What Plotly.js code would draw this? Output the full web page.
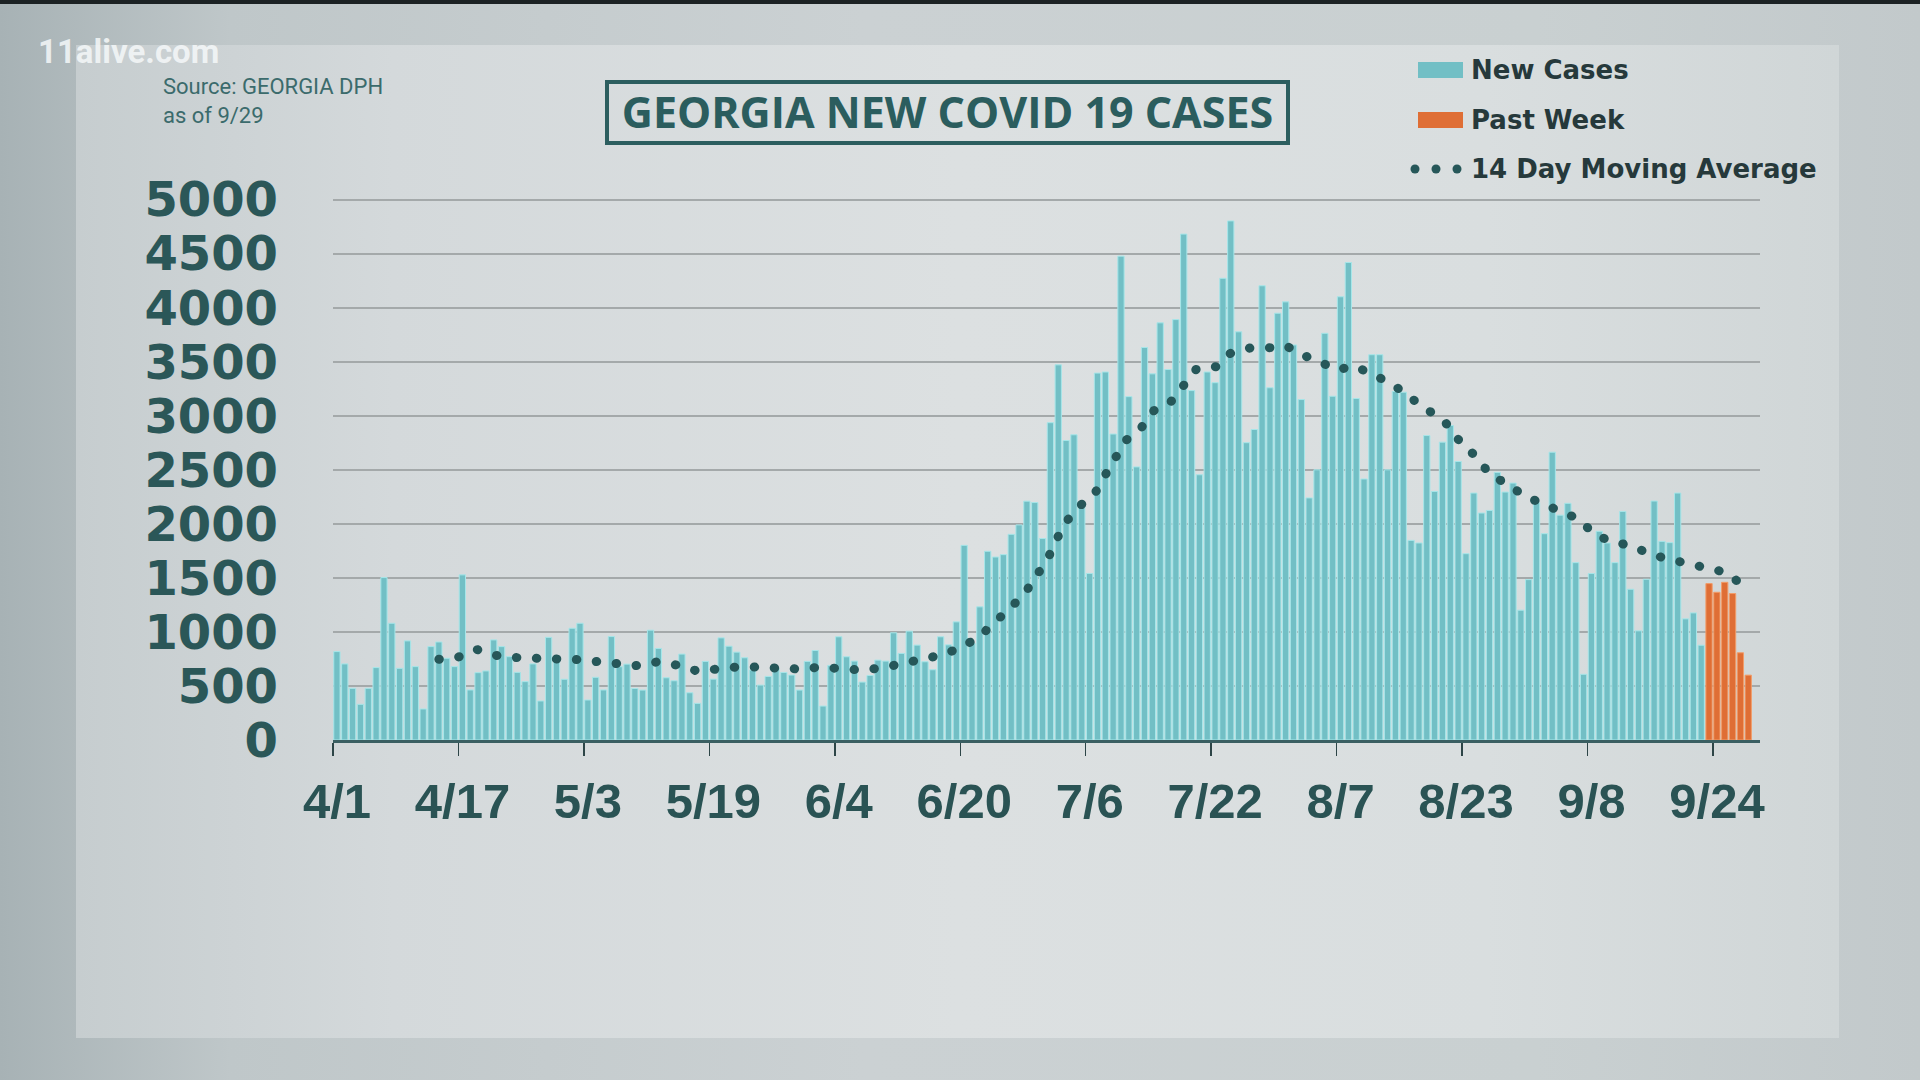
<!DOCTYPE html>
<html>
<head>
<meta charset="utf-8">
<script src="https://cdn.plot.ly/plotly-3.0.1.min.js"></script>
<style>
  html, body { margin: 0; padding: 0; width: 1920px; height: 1080px; overflow: hidden; }
  body { background: linear-gradient(90deg, #a7b2b5 0%, #bfc7c9 12%, #cbd1d3 45%, #c9d0d1 80%, #c2c9cb 100%); position: relative; }
  #topbar { position: absolute; left: 0; top: 0; width: 1920px; height: 4px; background: #1c2224; }
  #panel { position: absolute; left: 76px; top: 45px; width: 1763px; height: 993px;
           background: linear-gradient(90deg, #c6cdcf 0%, #d4d9db 18%, #dce0e1 50%, #d9dedf 80%, #d0d6d7 100%); }
  #chart { position: absolute; left: 0; top: 0; width: 1920px; height: 1080px; }
  .js-line { stroke-linecap: round !important; }
</style>
</head>
<body>
<div id="topbar"></div>
<div id="panel"></div>
<div id="chart"></div>
<script>
// ---------------- data ----------------
const startDate = [2020, 4, 1]; // 4/1
// daily new cases 4/1 .. 9/22
const newCases = [
  818, 704, 478, 330, 478, 670, 1503, 1080, 663, 917,
  679, 287, 864, 907, 756, 679, 1528, 463, 623, 639,
  926, 864, 771, 626, 540, 704, 361, 950, 741, 562,
  1034, 1080, 370, 580, 463, 957, 678, 702, 477, 462,
  1016, 847, 576, 548, 795, 437, 339, 727, 563, 945,
  868, 813, 761, 647, 508, 588, 662, 625, 601, 462,
  727, 828, 314, 690, 955, 770, 730, 536, 597, 739,
  730, 992, 801, 1007, 878, 724, 650, 955, 880, 1093,
  1801, 893, 1232, 1746, 1693, 1715, 1903, 1990, 2210, 2197,
  1864, 2936, 3471, 2771, 2824, 2158, 1541, 3395, 3405, 2831,
  4477, 3177, 2527, 3632, 3388, 3860, 3428, 3890, 4681, 3233,
  2454, 3405, 3306, 4272, 4803, 3777, 2751, 2873, 4203, 3259,
  3949, 4054, 3655, 3150, 2240, 2500, 3763, 3181, 4101, 4418,
  3160, 2415, 3565, 3565, 2500, 3225, 3218, 1847, 1823, 2817,
  2300, 2756, 2910, 2577, 1724, 2285, 2100, 2124, 2476, 2294,
  2377, 1201, 1484, 2195, 1909, 2663, 2080, 2190, 1641, 608,
  1540, 1931, 1823, 1641, 2115, 1395, 1010, 1487, 2211, 1838,
  1826, 2285, 1121, 1176, 877
];
// past week 9/23 .. 9/28
const pastWeek = [1447, 1367, 1459, 1355, 807, 600];

// 14 day moving average (day offset from 4/1, value)
const maDay = [
  13.0, 15.5, 17.9, 20.4, 23.0, 25.5, 28.1, 30.6, 33.2, 35.7,
  38.4, 40.9, 43.6, 46.0, 48.7, 51.3, 53.8, 56.4, 59.0, 61.6,
  64.2, 66.9, 69.6, 72.0, 74.6, 77.2, 79.5, 81.8, 83.8, 85.8,
  87.6, 89.1, 90.6, 91.7, 92.9, 94.6, 96.6, 97.9, 99.4, 100.6,
  102.6, 104.2, 106.3, 107.9, 109.6, 112.1, 113.9, 116.4, 118.5, 121.0,
  123.2, 125.3, 127.5, 129.8, 132.1, 134.0, 136.3, 138.2, 140.1, 142.1,
  143.5, 145.5, 147.0, 149.2, 151.4, 153.7, 156.2, 158.4, 160.2, 162.5,
  165.1, 167.3, 169.6, 172.2, 174.4, 176.9, 179.1
];
const maValue = [
  747, 768, 836, 781, 762, 762, 753, 744, 725, 697,
  687, 724, 690, 637, 659, 678, 674, 659, 656, 674,
  659, 647, 668, 706, 754, 788, 853, 948, 1081, 1210,
  1342, 1507, 1668, 1844, 2009, 2158, 2273, 2441, 2606, 2771,
  2890, 3048, 3124, 3283, 3431, 3454, 3576, 3626, 3626, 3649,
  3561, 3502, 3425, 3460, 3384, 3316, 3208, 3094, 3008, 2891,
  2725, 2617, 2454, 2374, 2260, 2183, 2115, 2044, 1916, 1832,
  1801, 1724, 1678, 1632, 1613, 1555, 1447
];

const xTickLabels = ['4/1','4/17','5/3','5/19','6/4','6/20','7/6','7/22','8/7','8/23','9/8','9/24'];
const yTickValues = [0,500,1000,1500,2000,2500,3000,3500,4000,4500,5000];
const seriesNames = ['New Cases', 'Past Week', '14 Day Moving Average'];
const titleText = 'GEORGIA NEW COVID 19 CASES';
const sourceText = 'Source: GEORGIA DPH<br>as of 9/29';
const brandText = '11alive.com';

// ---------------- build ----------------
const nDays = newCases.length + pastWeek.length;
const dayLabels = [];
for (let i = 0; i < nDays; i++) {
  const d = new Date(startDate[0], startDate[1] - 1, startDate[2] + i);
  dayLabels.push((d.getMonth() + 1) + '/' + d.getDate());
}
const centre = i => i + 0.5;
const xNew = newCases.map((v, i) => centre(i));
const xPast = pastWeek.map((v, i) => centre(newCases.length + i));
const xMA = maDay.map(d => centre(d));
const tickVals = xTickLabels.map(l => dayLabels.indexOf(l));

const W = 1920, H = 1080;
const M = { l: 333, r: 160, t: 198, b: 340 };
const PW = W - M.l - M.r, PH = H - M.t - M.b;
const px = p => (p - M.l) / PW;
const py = p => (H - M.b - p) / PH;

const TEAL = '#72bfc5', TEAL_EDGE = '#a6e6e9';
const ORANGE = '#df6e35', ORANGE_EDGE = '#f29c68';
const MA_COL = '#265759';

const traces = [
  { type: 'bar', name: seriesNames[0], x: xNew, y: newCases, width: 0.8,
    text: dayLabels.slice(0, newCases.length), hoverinfo: 'text+y', textposition: 'none',
    marker: { color: TEAL, line: { color: TEAL_EDGE, width: 1 } } },
  { type: 'bar', name: seriesNames[1], x: xPast, y: pastWeek, width: 0.8,
    text: dayLabels.slice(newCases.length), hoverinfo: 'text+y', textposition: 'none',
    marker: { color: ORANGE, line: { color: ORANGE_EDGE, width: 1 } } },
  { type: 'scatter', mode: 'lines', name: seriesNames[2], x: xMA, y: maValue,
    line: { color: MA_COL, width: 9, dash: '0.5px,19.5px', shape: 'linear' }, hoverinfo: 'y' }
];

const FONT_BIG = 'DejaVu Sans, Verdana, sans-serif';
const legendRows = [70, 120, 169];

const shapes = [
  // title box
  { type: 'rect', xref: 'paper', yref: 'paper', x0: px(607), x1: px(1288), y0: py(82), y1: py(143),
    line: { color: '#2c5e5f', width: 4 }, fillcolor: 'rgba(0,0,0,0)', layer: 'above' },
  // legend swatches
  { type: 'rect', xref: 'paper', yref: 'paper', x0: px(1418), x1: px(1463), y0: py(legendRows[0] - 8), y1: py(legendRows[0] + 8),
    line: { width: 0 }, fillcolor: TEAL },
  { type: 'rect', xref: 'paper', yref: 'paper', x0: px(1418), x1: px(1463), y0: py(legendRows[1] - 8), y1: py(legendRows[1] + 8),
    line: { width: 0 }, fillcolor: ORANGE }
];
[1415, 1436, 1457].forEach(cx => {
  shapes.push({ type: 'circle', xref: 'paper', yref: 'paper',
    x0: px(cx - 4.5), x1: px(cx + 4.5), y0: py(legendRows[2] - 4.5), y1: py(legendRows[2] + 4.5),
    line: { width: 0 }, fillcolor: MA_COL });
});

const annotations = [
  { text: brandText, xref: 'paper', yref: 'paper', x: px(36), y: py(51), xanchor: 'left', yanchor: 'middle',
    showarrow: false, font: { family: 'Roboto, sans-serif', size: 33, weight: 700, color: 'rgba(245,248,249,0.85)' } },
  { text: sourceText, xref: 'paper', yref: 'paper', x: px(161), y: py(101), xanchor: 'left', yanchor: 'middle', align: 'left',
    showarrow: false, font: { family: 'Roboto, sans-serif', size: 22, color: '#3b6b6c' } }
];
seriesNames.forEach((nm, k) => {
  annotations.push({ text: nm, xref: 'paper', yref: 'paper', x: px(1469), y: py(legendRows[k]),
    xanchor: 'left', yanchor: 'middle', showarrow: false,
    font: { family: FONT_BIG, size: 26, weight: 700, color: '#26393b' } });
});

const layout = {
  width: W, height: H,
  margin: M,
  paper_bgcolor: 'rgba(0,0,0,0)',
  plot_bgcolor: 'rgba(0,0,0,0)',
  showlegend: false,
  barmode: 'overlay',
  title: { text: titleText, xref: 'container', yref: 'container', x: 947.5 / W, y: 1 - 112.5 / H,
           xanchor: 'center', yanchor: 'middle',
           font: { family: 'Open Sans, sans-serif', size: 43, weight: 700, color: '#2b5d5e' } },
  xaxis: {
    range: [0, 182], tickmode: 'array', tickvals: tickVals, ticktext: xTickLabels,
    ticks: 'outside', ticklen: 13, tickwidth: 1.5, tickcolor: '#2d4547',
    showline: true, linecolor: '#3a5f62', linewidth: 2.5,
    showgrid: false, zeroline: false, ticklabelshift: 4, ticklabelstandoff: 4,
    tickfont: { family: 'Liberation Sans, Arial, sans-serif', size: 49, weight: 700, color: '#2a5354' }
  },
  yaxis: {
    range: [0, 5015], tickmode: 'array', tickvals: yTickValues,
    showgrid: true, gridcolor: '#a4a9aa', gridwidth: 2, zeroline: false, showline: false, ticks: '',
    ticklabelstandoff: 54,
    tickfont: { family: FONT_BIG, size: 48, weight: 700, color: '#2b5758' }
  },
  shapes: shapes,
  annotations: annotations
};

Plotly.newPlot('chart', traces, layout, { displayModeBar: false, staticPlot: true });
</script>
</body>
</html>
